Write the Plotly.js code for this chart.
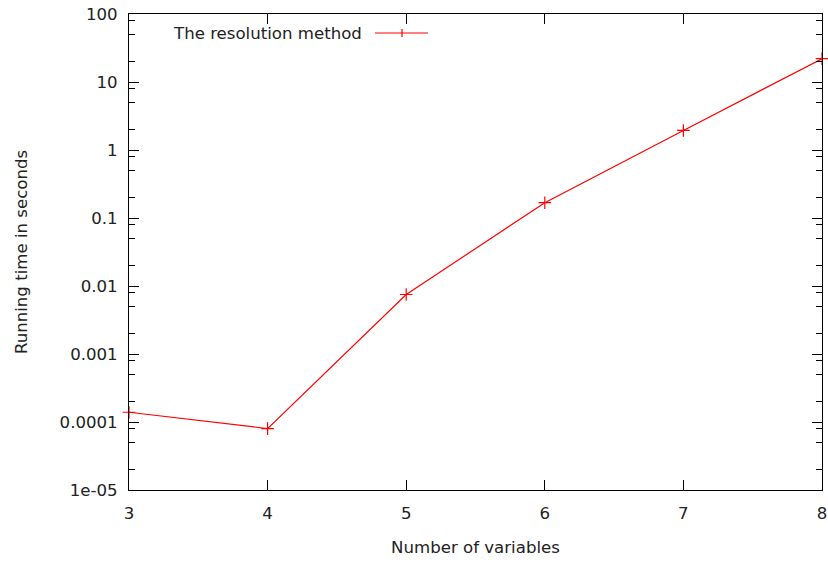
<!DOCTYPE html>
<html>
<head>
<meta charset="utf-8">
<script src="https://cdn.plot.ly/plotly-3.0.1.min.js"></script>
<style>html,body{margin:0;padding:0;background:#fff;}#chart{width:828px;height:562px;}</style>
</head>
<body>
<div id="chart"></div>
<script>
// Data
var variables = [3, 4, 5, 6, 7, 8];
var runningTime = [0.000139, 0.00008, 0.0075, 0.168, 1.94, 22.0];
var seriesName = 'The resolution method';
var yTickVals = [1e-5, 1e-4, 1e-3, 1e-2, 1e-1, 1, 10, 100];
var yTickText = ['1e-05', '0.0001', '0.001', '0.01', '0.1', '1', '10', '100'];
var xTickVals = [3, 4, 5, 6, 7, 8];

var minorVals = [];
yTickVals.slice(0, -1).forEach(function (d) { [2, 5, 8].forEach(function (m) { minorVals.push(d * m); }); });

var fontFam = 'DejaVu Sans, sans-serif';
var txtCol = '#222';
var fs = 16.6;

var trace = {
  x: variables, y: runningTime, type: 'scatter', mode: 'lines+markers',
  name: seriesName, cliponaxis: false, showlegend: false,
  line: {color: '#ff0000', width: 1.2},
  marker: {symbol: 'cross-thin-open', size: 9, color: '#ff0000', line: {color: '#ff0000', width: 1.2}}
};

var layout = {
  width: 828, height: 562,
  margin: {l: 129, r: 6, t: 14, b: 72},
  paper_bgcolor: '#fff', plot_bgcolor: '#fff',
  font: {family: fontFam, size: fs, color: txtCol},
  showlegend: false,
  xaxis: {
    range: [3, 8], tickmode: 'array', tickvals: xTickVals,
    ticks: 'inside', ticklen: 10, tickwidth: 1, tickcolor: '#000',
    showline: true, linecolor: '#000', linewidth: 1, mirror: 'allticks',
    showgrid: false, zeroline: false, ticklabelstandoff: 8,
    tickfont: {family: fontFam, size: fs, color: txtCol},
    title: {text: 'Number of variables', font: {family: fontFam, size: fs, color: txtCol}, standoff: 19}
  },
  yaxis: {
    type: 'log', range: [-5, 2], tickmode: 'array', tickvals: yTickVals, ticktext: yTickText,
    ticks: 'inside', ticklen: 10, tickwidth: 1, tickcolor: '#000',
    minor: {tickmode: 'array', tickvals: minorVals, ticks: 'inside', ticklen: 6, tickwidth: 1, tickcolor: '#000', showgrid: false},
    showline: true, linecolor: '#000', linewidth: 1, mirror: 'allticks',
    showgrid: false, zeroline: false, ticklabelstandoff: 7,
    tickfont: {family: fontFam, size: fs, color: txtCol},
    title: {text: 'Running time in seconds', font: {family: fontFam, size: fs, color: txtCol}, standoff: 27}
  },
  annotations: [{
    xref: 'paper', yref: 'paper', x: (364 - 129) / 693, y: (490 - 34) / 476,
    xanchor: 'right', yanchor: 'middle', showarrow: false,
    text: seriesName, font: {family: fontFam, size: fs, color: txtCol}
  }],
  shapes: [
    {type: 'line', xref: 'paper', yref: 'paper', x0: (375 - 129) / 693, x1: (428 - 129) / 693, y0: (490 - 33) / 476, y1: (490 - 33) / 476, line: {color: '#ff0000', width: 1.2}},
    {type: 'line', xref: 'paper', yref: 'paper', x0: (402 - 129) / 693, x1: (402 - 129) / 693, y0: (490 - 29) / 476, y1: (490 - 37) / 476, line: {color: '#ff0000', width: 1.2}}
  ]
};

Plotly.newPlot('chart', [trace], layout, {displayModeBar: false, staticPlot: true});
</script>
</body>
</html>
